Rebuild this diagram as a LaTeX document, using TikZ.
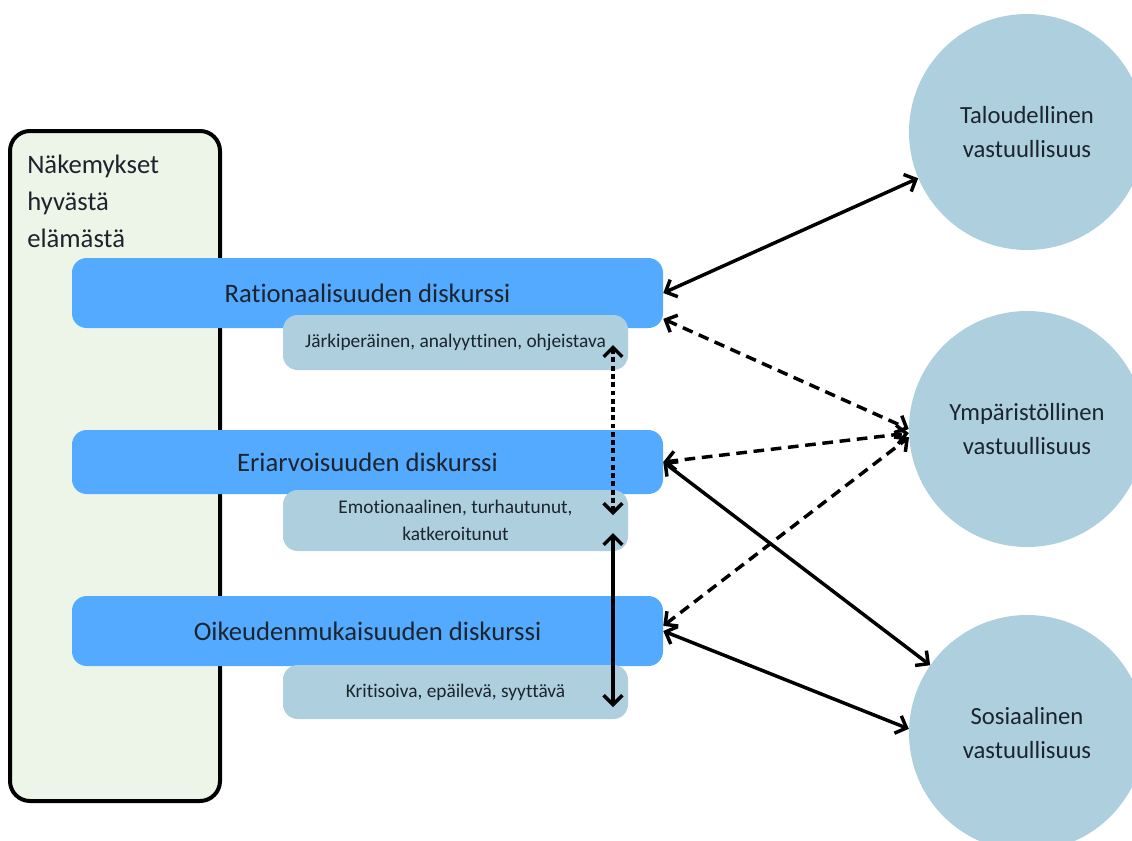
\documentclass[tikz,border=0pt]{standalone}
\usepackage{fontspec}
\setmainfont{Carlito}[Ligatures=NoCommon]
\usetikzlibrary{arrows.meta}

\definecolor{lifegreen}{RGB}{237,245,232}
\definecolor{discblue}{RGB}{84,170,255}
\definecolor{paleblue}{RGB}{173,207,222}
\definecolor{inkdark}{RGB}{28,36,46}

\tikzset{
  discbox/.style={fill=discblue,rounded corners=11pt,minimum width=443.25pt,inner sep=0pt,font=\fontsize{20}{24}\selectfont,text=inkdark},
  tonebox/.style={fill=paleblue,rounded corners=11pt,minimum width=258.75pt,inner sep=0pt,align=center,font=\fontsize{14.5}{20}\selectfont,text=inkdark},
  respcirc/.style={circle,fill=paleblue,minimum size=177pt,inner sep=0pt,align=center,font=\fontsize{18.5}{25}\selectfont,text=inkdark},
  link/.style={line width=2.6pt,{Straight Barb[length=7pt,width=14pt]}-{Straight Barb[length=7pt,width=14pt]}},
  dashlink/.style={link,dash pattern=on 8pt off 5pt},
  dotlink/.style={link,dash pattern=on 3.6pt off 2.6pt},
}

\begin{document}
\begin{tikzpicture}[x=0.75pt,y=0.75pt,yscale=-1,xscale=1]
\useasboundingbox (0,0) rectangle (1132,840);
\clip (0,0) rectangle (1132,840);

%Rounded Rect [id:goodlife]
\node (goodlife) [draw,line width=3pt,fill=lifegreen,rounded corners=15pt,minimum width=157.5pt,minimum height=502.5pt] at (115,466) {};
% Text Node
\node (goodtxt) [anchor=north west,inner sep=0pt,align=left,font=\fontsize{20}{27.75}\selectfont,text=inkdark] at (27,155) {Näkemykset\\hyvästä\\elämästä};

%Rounded Rect [id:rat]
\node (rat) [discbox,minimum height=52.5pt] at (367.5,293) {Rationaalisuuden diskurssi};
%Rounded Rect [id:eri]
\node (eri) [discbox,minimum height=48pt] at (367.5,462) {Eriarvoisuuden diskurssi};
%Rounded Rect [id:oik]
\node (oik) [discbox,minimum height=52.5pt] at (367.5,631) {Oikeudenmukaisuuden diskurssi};

%Rounded Rect [id:jar]
\node (jar) [tonebox,minimum height=41.25pt] at (455.5,342.5) {Järkiperäinen, analyyttinen, ohjeistava};
%Rounded Rect [id:emo]
\node (emo) [tonebox,minimum height=45.75pt] at (455.5,520.5) {Emotionaalinen, turhautunut,\\katkeroitunut};
%Rounded Rect [id:krit]
\node (krit) [tonebox,minimum height=40.5pt] at (455.5,692) {Kritisoiva, epäilevä, syyttävä};

%Shape: Circle [id:tal]
\node (tal) [respcirc] at (1027,132) {Taloudellinen\\vastuullisuus};
%Shape: Circle [id:ymp]
\node (ymp) [respcirc] at (1027,429) {Ympäristöllinen\\vastuullisuus};
%Shape: Circle [id:sos]
\node (sos) [respcirc] at (1027,733) {Sosiaalinen\\vastuullisuus};

\coordinate (jarlow) at (613,345);
\coordinate (emotop) at (613,515);
\coordinate (emolow) at (613,533);
\coordinate (krittop) at (613,707);

%Straight Lines
\draw [link] (rat.east) -- (tal.203);
\draw [dashlink] (rat.-5) -- (ymp.180);
\draw [dashlink] (eri.east) -- (ymp.182);
\draw [dashlink] (oik.1) -- (ymp.184);
\draw [link] (eri.east) -- (sos.145);
\draw [link] (oik.east) -- (sos.178);
\draw [dotlink] (jarlow) -- (emotop);
\draw [link] (emolow) -- (krittop);

\end{tikzpicture}
\end{document}
